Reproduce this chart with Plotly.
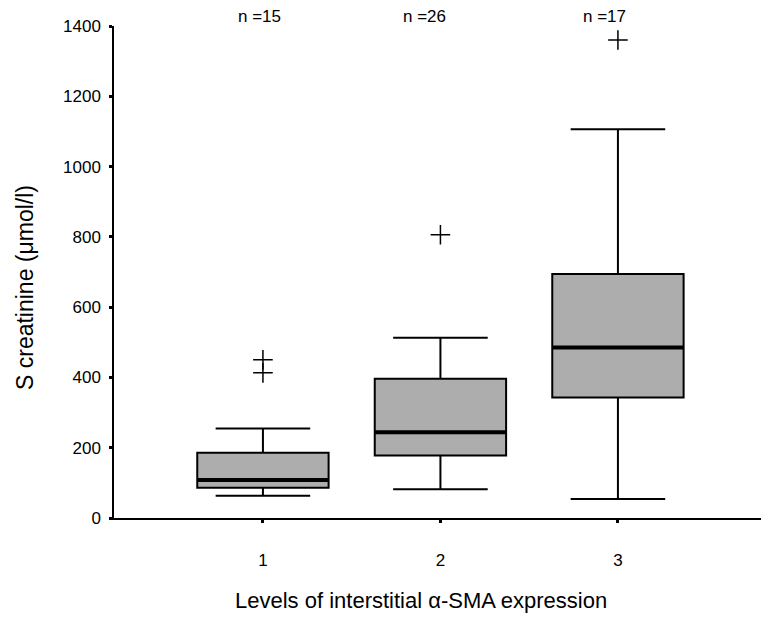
import plotly.graph_objects as go

# ---- data ----
categories = [1, 2, 3]
tick_labels = ["1", "2", "3"]
n_labels = ["n =15", "n =26", "n =17"]
q1 = [86, 178, 343]
median = [108, 244, 485]
q3 = [186, 396, 694]
lower_whisker = [63, 82, 54]
upper_whisker = [255, 513, 1106]
outlier_x = [1, 1, 2, 3]
outlier_y = [450, 413, 806, 1360]

y_ticks = [0, 200, 400, 600, 800, 1000, 1200, 1400]

BOX_W = 0.74
FONT = "Arial, Liberation Sans, sans-serif"

fig = go.Figure()

fig.add_trace(go.Box(
    x=categories, q1=q1, median=median, q3=q3,
    lowerfence=lower_whisker, upperfence=upper_whisker,
    width=BOX_W, whiskerwidth=0.72, boxpoints=False,
    fillcolor="#adadad", line=dict(color="black", width=2),
    showlegend=False, hoverinfo="skip",
))

# thick median bars
for c, m in zip(categories, median):
    fig.add_trace(go.Scatter(
        x=[c - BOX_W / 2, c + BOX_W / 2], y=[m, m], mode="lines",
        line=dict(color="black", width=4), showlegend=False, hoverinfo="skip",
    ))

fig.add_trace(go.Scatter(
    x=outlier_x, y=outlier_y, mode="markers",
    marker=dict(symbol="cross-thin", size=14, color="black",
                line=dict(color="black", width=1.5)),
    showlegend=False, hoverinfo="skip",
))

n_shift = [-3, -16, -13]
for c, t, s in zip(categories, n_labels, n_shift):
    fig.add_annotation(x=c, y=1, xref="x", yref="paper", text=t,
                       showarrow=False, yanchor="middle", yshift=10, xshift=s,
                       font=dict(family=FONT, size=17, color="black"))

# axis titles as annotations for exact placement
fig.add_annotation(x=0.5, y=0, xref="paper", yref="paper", xshift=-17, yshift=-82,
                   text="Levels of interstitial α-SMA expression", showarrow=False,
                   xanchor="center", yanchor="middle",
                   font=dict(family=FONT, size=22, color="black"))
fig.add_annotation(x=0, y=0.5, xref="paper", yref="paper", xshift=-89, yshift=-16,
                   text="S creatinine (μmol/l)", showarrow=False, textangle=-90,
                   xanchor="center", yanchor="middle",
                   font=dict(family=FONT, size=23, color="black"))

fig.update_layout(
    width=761, height=639,
    margin=dict(l=114, r=0, t=26, b=121),
    paper_bgcolor="white", plot_bgcolor="white",
    font=dict(family=FONT, color="black"),
    showlegend=False,
)

fig.update_xaxes(
    range=[0.161, 3.806], tickvals=categories, ticktext=tick_labels,
    showgrid=False, zeroline=False, showline=True, linecolor="black", linewidth=1.5,
    ticks="outside", ticklen=3, tickwidth=3, tickcolor="black",
    tickfont=dict(family=FONT, size=17), ticklabelstandoff=23,
)
fig.update_yaxes(
    range=[0, 1400], tickvals=y_ticks,
    showgrid=False, zeroline=False, showline=True, linecolor="black", linewidth=1.5,
    ticks="outside", ticklen=3, tickwidth=3, tickcolor="black",
    tickfont=dict(family=FONT, size=17), ticklabelstandoff=5,
)

fig.write_html("out.html")
